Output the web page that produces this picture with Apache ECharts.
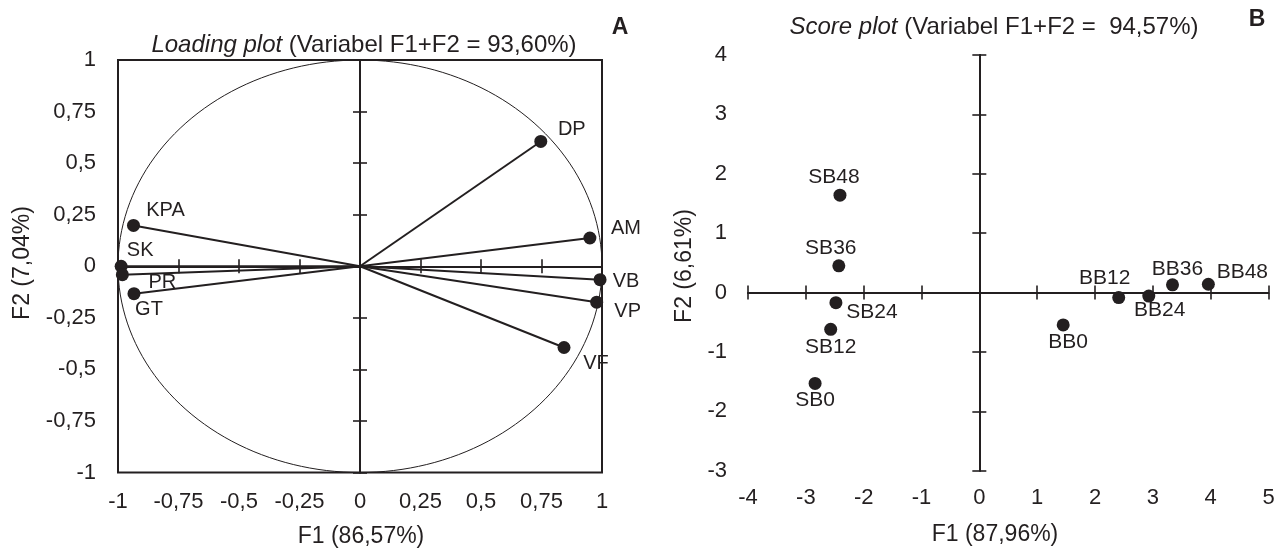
<!DOCTYPE html>
<html>
<head>
<meta charset="utf-8">
<script src="https://cdn.jsdelivr.net/npm/echarts@6/dist/echarts.min.js"></script>
<style>
html,body{margin:0;padding:0;background:#fff;}
#chart{width:1280px;height:550px;}
</style>
</head>
<body>
<div id="chart"></div>
<script>
// ---------- Panel A : loading plot ----------
const loadingNames = ['DP', 'AM', 'KPA', 'SK', 'PR', 'GT', 'VB', 'VP', 'VF'];
const loadingF1 = [0.747, 0.950, -0.936, -0.987, -0.982, -0.934, 0.992, 0.978, 0.843];
const loadingF2 = [0.605, 0.137, 0.198, 0.000, -0.041, -0.133, -0.065, -0.174, -0.394];
const loadingTickLabels = ['-1', '-0,75', '-0,5', '-0,25', '0', '0,25', '0,5', '0,75', '1'];

// ---------- Panel B : score plot ----------
const scoreNames = ['SB48', 'SB36', 'SB24', 'SB12', 'SB0', 'BB0', 'BB12', 'BB24', 'BB36', 'BB48'];
const scoreF1 = [-2.41, -2.43, -2.48, -2.57, -2.84, 1.45, 2.41, 2.93, 3.34, 3.96];
const scoreF2 = [1.64, 0.45, -0.17, -0.62, -1.53, -0.545, -0.085, -0.06, 0.13, 0.14];
const scoreXTickLabels = ['-4', '-3', '-2', '-1', '0', '1', '2', '3', '4', '5'];
const scoreYTickLabels = ['-3', '-2', '-1', '0', '1', '2', '3', '4'];

// ---------- label placement (style, not data): label centre relative to the dot ----------
const loadingLabelPlace = {
  DP: [31, -12], AM: [36, -10], KPA: [32, -15], SK: [19, -16], PR: [40, 8],
  GT: [15, 16], VB: [26, 2], VP: [31, 9], VF: [32, 16]
};
const scoreLabelPlace = {
  SB48: [-6, -18], SB36: [-8, -18], SB24: [36, 10], SB12: [0, 18], SB0: [0, 17],
  BB0: [5, 17], BB12: [-14, -19], BB24: [11, 14], BB36: [5, -16], BB48: [34, -12]
};

const ink = '#231f20';
const fontFamily = "'Liberation Sans', Arial, Helvetica, sans-serif";
const DOT = 13;

function loadingFmt(v) {
  const i = Math.round((v + 1) / 0.25);
  return loadingTickLabels[i] !== undefined ? loadingTickLabels[i] : '';
}
function scoreXFmt(v) { const i = Math.round(v + 4); return scoreXTickLabels[i] || ''; }
function scoreYFmt(v) { const i = Math.round(v + 3); return scoreYTickLabels[i] || ''; }

function labelAxis(dim, gridIndex, min, max, interval, fmt, margin, lineShow) {
  return {
    type: 'value', gridIndex, min, max, interval,
    position: dim === 'x' ? 'bottom' : 'left',
    axisLine: { show: lineShow, onZero: false, lineStyle: { color: ink, width: 2 } },
    axisTick: { show: false },
    splitLine: { show: false },
    axisLabel: { show: true, margin, fontSize: 22, color: ink, fontFamily, formatter: fmt }
  };
}
function zeroAxis(dim, gridIndex, min, max, interval, inside) {
  return {
    type: 'value', gridIndex, min, max, interval,
    position: dim === 'x' ? 'bottom' : 'left',
    axisLine: { show: true, onZero: true, lineStyle: { color: ink, width: 2 } },
    axisTick: { show: true, inside, length: 7, lineStyle: { color: ink, width: 1.6 } },
    splitLine: { show: false },
    axisLabel: { show: false }
  };
}

const xAxes = [
  labelAxis('x', 0, -1, 1, 0.25, loadingFmt, 18, false),
  zeroAxis('x', 0, -1, 1, 0.25, false),
  zeroAxis('x', 0, -1, 1, 0.25, true),
  labelAxis('x', 1, -4, 5, 1, scoreXFmt, 16, false),
  zeroAxis('x', 1, -4, 5, 1, false),
  zeroAxis('x', 1, -4, 5, 1, true)
];
const yAxes = [
  labelAxis('y', 0, -1, 1, 0.25, loadingFmt, 22, false),
  zeroAxis('y', 0, -1, 1, 0.25, false),
  zeroAxis('y', 0, -1, 1, 0.25, true),
  labelAxis('y', 1, -3, 4, 1, scoreYFmt, 21, false),
  zeroAxis('y', 1, -3, 4, 1, false),
  zeroAxis('y', 1, -3, 4, 1, true)
];

const series = [];

// correlation (unit) circle of the loading plot
const unitCircle = [];
for (let a = 0; a <= 360; a += 2) {
  unitCircle.push([Math.cos(a * Math.PI / 180), Math.sin(a * Math.PI / 180)]);
}
series.push({
  type: 'line', xAxisIndex: 0, yAxisIndex: 0, data: unitCircle,
  symbol: 'none', clip: false, silent: true, z: 1,
  lineStyle: { color: ink, width: 1 }
});

// loading vectors from the origin
loadingNames.forEach(function (n, i) {
  series.push({
    type: 'line', xAxisIndex: 0, yAxisIndex: 0,
    data: [[0, 0], [loadingF1[i], loadingF2[i]]],
    symbol: 'none', clip: false, silent: true, z: 2,
    lineStyle: { color: ink, width: 2 }
  });
});

function labelledPoints(names, xs, ys, place) {
  return names.map(function (n, i) {
    const p = place[n] || [0, -16];
    return {
      name: n, value: [xs[i], ys[i]],
      label: { position: [DOT / 2 + p[0], DOT / 2 + p[1]] }
    };
  });
}

series.push({
  type: 'scatter', xAxisIndex: 0, yAxisIndex: 0, symbol: 'circle', symbolSize: DOT,
  clip: false, z: 3,
  itemStyle: { color: ink, opacity: 1 },
  label: { show: true, formatter: '{b}', align: 'center', verticalAlign: 'middle',
           fontSize: 20, color: ink, opacity: 1, fontFamily },
  data: labelledPoints(loadingNames, loadingF1, loadingF2, loadingLabelPlace)
});

series.push({
  type: 'scatter', xAxisIndex: 3, yAxisIndex: 3, symbol: 'circle', symbolSize: DOT,
  clip: false, z: 3,
  itemStyle: { color: ink, opacity: 1 },
  label: { show: true, formatter: '{b}', align: 'center', verticalAlign: 'middle',
           fontSize: 21, color: ink, opacity: 1, fontFamily },
  data: labelledPoints(scoreNames, scoreF1, scoreF2, scoreLabelPlace)
});

function titleText(x, y, italicPart, rest) {
  return {
    type: 'text', x, y, silent: true,
    style: {
      text: '{i|' + italicPart + '}{n|' + rest + '}',
      align: 'center', verticalAlign: 'middle',
      rich: {
        i: { fontStyle: 'italic', fontSize: 24, fontFamily, fill: ink },
        n: { fontSize: 24, fontFamily, fill: ink }
      }
    }
  };
}
function plainText(x, y, text, size, opts) {
  return Object.assign({
    type: 'text', x, y, silent: true,
    style: { text, fontSize: size, fontFamily, fill: ink, align: 'center', verticalAlign: 'middle' }
  }, opts || {});
}

const option = {
  backgroundColor: '#ffffff',
  animation: false,
  grid: [
    { left: 118, right: 678, top: 60, bottom: 77.5, show: true, borderColor: ink, borderWidth: 2,
      backgroundColor: 'transparent', outerBoundsMode: 'none' },
    { left: 748, right: 11.5, top: 55, bottom: 79.3, show: false, outerBoundsMode: 'none' }
  ],
  xAxis: xAxes,
  yAxis: yAxes,
  series,
  graphic: [
    titleText(364, 45, 'Loading plot', ' (Variabel F1+F2 = 93,60%)'),
    titleText(994, 27, 'Score plot', ' (Variabel F1+F2 =  94,57%)'),
    plainText(620, 28, 'A', 23, { style: { text: 'A', fontSize: 23, fontWeight: 'bold', fontFamily, fill: ink, align: 'center', verticalAlign: 'middle' } }),
    plainText(1257, 20, 'B', 23, { style: { text: 'B', fontSize: 23, fontWeight: 'bold', fontFamily, fill: ink, align: 'center', verticalAlign: 'middle' } }),
    plainText(361, 537, 'F1 (86,57%)', 23),
    plainText(995, 535, 'F1 (87,96%)', 23),
    plainText(23, 263, 'F2 (7,04%)', 23, { rotation: Math.PI / 2 }),
    plainText(685, 266, 'F2 (6,61%)', 23, { rotation: Math.PI / 2 })
  ]
};

const chart = echarts.init(document.getElementById('chart'), null, { renderer: 'canvas' });
chart.setOption(option);
</script>
</body>
</html>
